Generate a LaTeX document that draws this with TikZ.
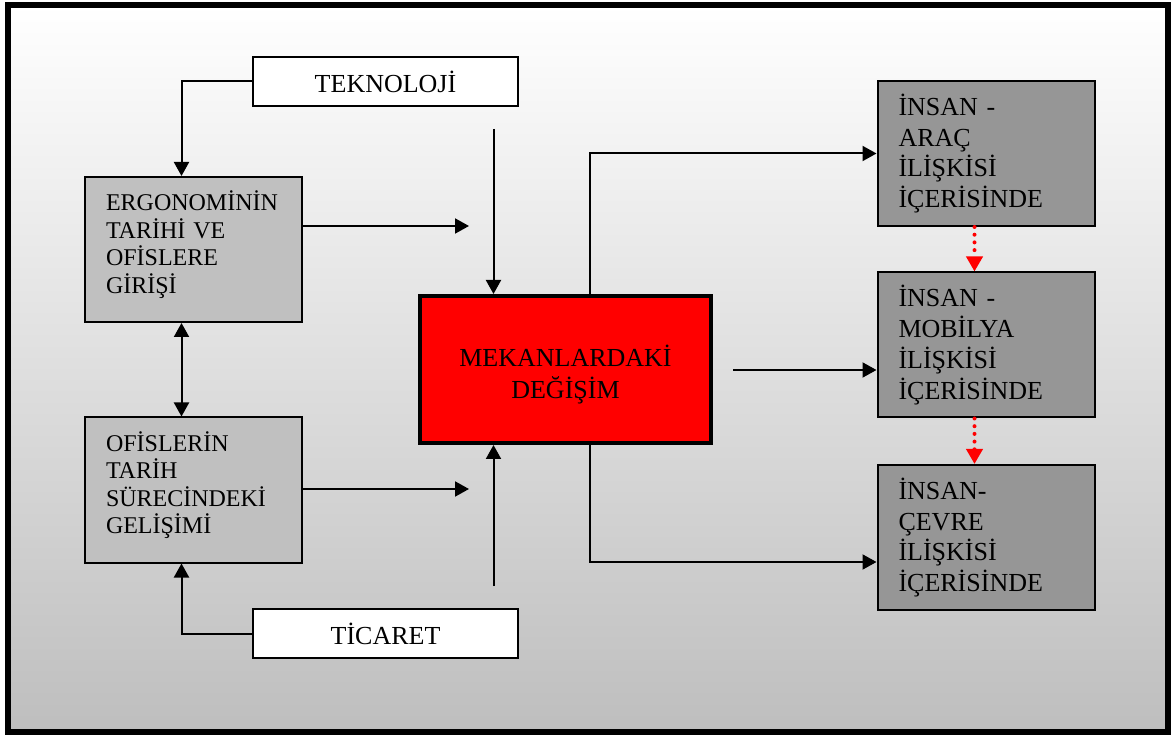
\documentclass[tikz,border=0pt]{standalone}
\usepackage{fontspec}
\setmainfont{Liberation Serif}
\usetikzlibrary{arrows.meta}
\definecolor{lgray}{RGB}{192,192,192}
\definecolor{dgray}{RGB}{150,150,150}
\definecolor{bgbottom}{RGB}{190,190,190}
\newcommand{\dropdn}[1]{\rule[-#1]{0pt}{0pt}}
\begin{document}
\begin{tikzpicture}[x=1pt,y=-1pt,
  conn/.style={line width=2pt,-{Triangle[length=14pt,width=15pt]}},
  dconn/.style={line width=2pt,{Triangle[length=14pt,width=15pt]}-{Triangle[length=14pt,width=15pt]}},
  rdot/.style={red,line width=4pt,line cap=round,dash pattern=on 0pt off 7.7pt,-{Triangle[length=15pt,width=16pt,line cap=butt]}},
  lbox/.style={draw,line width=2pt,fill=lgray,minimum height=145pt,inner xsep=21pt,inner ysep=0pt,text width=175pt,align=left,font=\fontsize{24}{27.5}\selectfont},
  rbox/.style={draw,line width=2pt,fill=dgray,minimum height=145pt,inner xsep=21pt,inner ysep=0pt,text width=175pt,align=left,font=\fontsize{26}{30.7}\selectfont},
  wbox/.style={draw,line width=2pt,fill=white,minimum width=265pt,minimum height=49pt,inner sep=0pt,font=\fontsize{26}{30}\selectfont},
  mbox/.style={draw,line width=4pt,fill=red,minimum width=291pt,minimum height=147pt,inner sep=0pt,align=center,font=\fontsize{26}{32}\selectfont}
]
\useasboundingbox (0,0) rectangle (1171,735);
\shade[top color=white,bottom color=bgbottom] (8,5) rectangle (1168,732);
\draw[line width=6pt] (8,5) rectangle (1168,732);

\node[wbox] (tek) at (385.5,81.5) {TEKNOLOJİ};
\node[wbox] (tic) at (385.5,633.5) {TİCARET};
\node[lbox] (erg) at (193.5,249.5) {ERGONOMİNİN\\TARİHİ VE\\OFİSLERE\\GİRİŞİ\dropdn{15pt}};
\node[lbox] (ofi) at (193.5,490) {OFİSLERİN\\TARİH\\SÜRECİNDEKİ\\GELİŞİMİ\dropdn{15pt}};
\node[mbox] (mek) at (565.5,369.5) {\rule{0pt}{31pt}MEKANLARDAKİ\\DEĞİŞİM};
\node[rbox] (r1) at (986,153.5) {İNSAN -\\ARAÇ\\İLİŞKİSİ\\İÇERİSİNDE};
\node[rbox] (r2) at (986,345) {İNSAN -\\MOBİLYA\\İLİŞKİSİ\\İÇERİSİNDE};
\node[rbox] (r3) at (986,537.5) {İNSAN-\\ÇEVRE\\İLİŞKİSİ\\İÇERİSİNDE};

\coordinate (ea) at (469,226);
\coordinate (oa) at (469,489);
\coordinate (tt) at (493.5,129);
\coordinate (tb) at (493.5,586);
\coordinate (mx) at (589.5,0);
\coordinate (m2) at (733,370);
\coordinate (c3) at (589.5,562);
\coordinate (dx) at (974.5,0);

\draw[conn] (tek.west) -| ([xshift=-12pt]erg.north);
\draw[conn] (tic.west) -| ([xshift=-12pt]ofi.south);
\draw[dconn] ([xshift=-12pt]erg.south) -- ([xshift=-12pt]ofi.north);
\draw[conn] (erg.east |- ea) -- (ea);
\draw[conn] (ofi.east |- oa) -- (oa);
\draw[conn] (tt) -- (tt |- mek.north);
\draw[conn] (tb) -- (tb |- mek.south);
\draw[conn] (mek.north -| mx) |- (r1.west);
\draw[conn] (m2) -- (m2 -| r2.west);
\draw[conn] (mek.south -| c3) -- (c3) -- (c3 -| r3.west);
\draw[rdot] (r1.south -| dx) -- (r2.north -| dx);
\draw[rdot] (r2.south -| dx) -- (r3.north -| dx);
\end{tikzpicture}
\end{document}
